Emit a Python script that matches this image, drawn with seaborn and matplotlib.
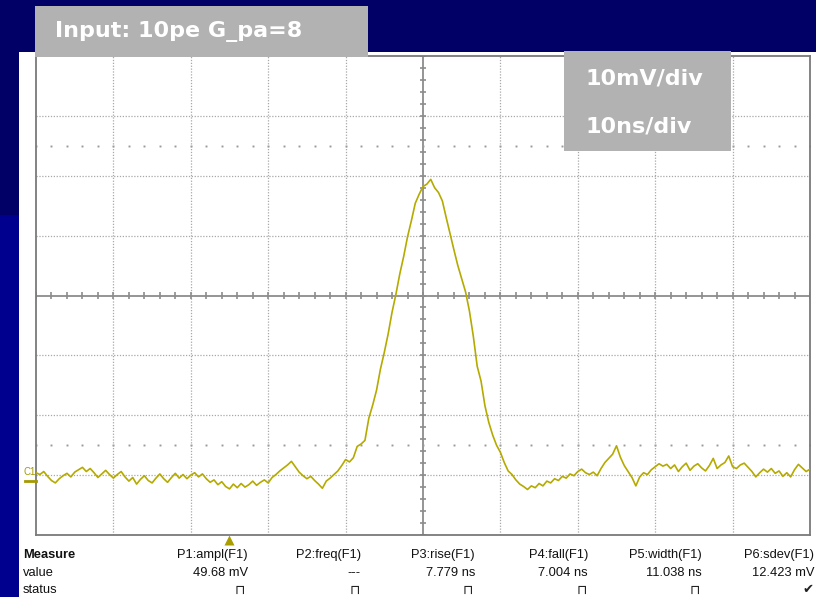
import numpy as np
import pandas as pd
import seaborn as sns
import matplotlib
matplotlib.use("Agg")
import matplotlib.pyplot as plt
from matplotlib.patches import Rectangle
from matplotlib.lines import Line2D

# ---------------- data ----------------
TIME_NS = [
    -50.0, -49.5, -49.0, -48.5, -48.0, -47.5, -47.0, -46.5, -46.0, -45.5,
    -45.0, -44.5, -44.0, -43.5, -43.0, -42.5, -42.0, -41.5, -41.0, -40.5,
    -40.0, -39.5, -39.0, -38.5, -38.0, -37.5, -37.0, -36.5, -36.0, -35.5,
    -35.0, -34.5, -34.0, -33.5, -33.0, -32.5, -32.0, -31.5, -31.0, -30.5,
    -30.0, -29.5, -29.0, -28.5, -28.0, -27.5, -27.0, -26.5, -26.0, -25.5,
    -25.0, -24.5, -24.0, -23.5, -23.0, -22.5, -22.0, -21.5, -21.0, -20.5,
    -20.0, -19.5, -19.0, -18.5, -18.0, -17.5, -17.0, -16.5, -16.0, -15.5,
    -15.0, -14.5, -14.0, -13.5, -13.0, -12.5, -12.0, -11.5, -11.0, -10.5,
    -10.0, -9.5, -9.0, -8.5, -8.0, -7.5, -7.0, -6.5, -6.0, -5.5,
    -5.0, -4.5, -4.0, -3.5, -3.0, -2.5, -2.0, -1.5, -1.0, -0.5,
    0.0, 0.5, 1.0, 1.5, 2.0, 2.5, 3.0, 3.5, 4.0, 4.5,
    5.0, 5.5, 6.0, 6.5, 7.0, 7.5, 8.0, 8.5, 9.0, 9.5,
    10.0, 10.5, 11.0, 11.5, 12.0, 12.5, 13.0, 13.5, 14.0, 14.5,
    15.0, 15.5, 16.0, 16.5, 17.0, 17.5, 18.0, 18.5, 19.0, 19.5,
    20.0, 20.5, 21.0, 21.5, 22.0, 22.5, 23.0, 23.5, 24.0, 24.5,
    25.0, 25.5, 26.0, 26.5, 27.0, 27.5, 28.0, 28.5, 29.0, 29.5,
    30.0, 30.5, 31.0, 31.5, 32.0, 32.5, 33.0, 33.5, 34.0, 34.5,
    35.0, 35.5, 36.0, 36.5, 37.0, 37.5, 38.0, 38.5, 39.0, 39.5,
    40.0, 40.5, 41.0, 41.5, 42.0, 42.5, 43.0, 43.5, 44.0, 44.5,
    45.0, 45.5, 46.0, 46.5, 47.0, 47.5, 48.0, 48.5, 49.0, 49.5,
    50.0,
]
VOLT_MV = [
    -29.6, -29.9, -29.4, -30.2, -30.9, -31.3, -30.6, -30.1, -29.7, -30.3,
    -29.5, -29.1, -28.7, -29.4, -28.9, -29.6, -30.4, -29.8, -29.2, -29.9,
    -30.5, -29.9, -29.4, -30.3, -31.0, -30.4, -31.5, -30.7, -30.1, -30.9,
    -31.3, -30.5, -29.8, -30.6, -31.2, -30.4, -29.7, -30.5, -29.9, -30.6,
    -30.0, -29.6, -30.3, -29.8, -30.6, -31.2, -30.8, -31.6, -31.1, -31.9,
    -32.3, -31.5, -32.1, -31.4, -32.0, -31.6, -31.0, -31.7, -31.2, -30.8,
    -31.3, -30.4, -29.9, -29.3, -28.8, -28.3, -27.7, -28.6, -29.5, -30.1,
    -30.6, -30.2, -30.9, -31.5, -32.2, -31.0, -30.5, -29.9, -29.3, -28.4,
    -27.4, -27.8, -27.1, -25.2, -24.8, -24.2, -20.5, -18.3, -15.8, -12.3,
    -9.5, -6.4, -2.8, 0.2, 3.6, 6.5, 9.8, 12.5, 15.4, 16.9,
    18.2, 18.6, 19.4, 18.0, 17.2, 15.8, 13.0, 10.3, 7.6, 5.0,
    2.8, 0.6, -2.6, -6.8, -11.8, -14.3, -18.4, -21.2, -23.3, -25.0,
    -26.2, -27.9, -29.3, -29.9, -30.8, -31.5, -31.9, -32.4, -31.8, -32.1,
    -31.4, -31.8, -31.0, -31.3, -30.6, -30.9, -30.2, -30.5, -29.8, -30.1,
    -29.4, -29.0, -29.6, -29.9, -29.5, -30.1, -28.9, -27.9, -27.2, -26.5,
    -25.1, -27.0, -28.4, -29.4, -30.4, -31.8, -30.3, -29.6, -29.9, -29.1,
    -28.6, -28.1, -28.5, -28.2, -28.9, -28.3, -29.4, -28.6, -28.0, -29.2,
    -28.5, -28.1, -28.8, -29.3, -28.4, -27.2, -28.9, -28.3, -27.9, -26.8,
    -28.6, -28.9, -28.3, -28.0, -28.7, -29.4, -30.3, -29.6, -29.0, -29.5,
    -28.9, -29.7, -29.3, -30.2, -29.6, -30.3, -29.1, -28.2, -28.8, -29.4,
    -29.0,
]
TRIGGER_NS = -25.0
CURSOR_MV = [25.0, -25.0]

TITLE = "Input: 10pe G_pa=8"
SCALE_LINES = ["10mV/div", "10ns/div"]
MEAS_HEADERS = ["P1:ampl(F1)", "P2:freq(F1)", "P3:rise(F1)", "P4:fall(F1)", "P5:width(F1)", "P6:sdev(F1)"]
MEAS_VALUES = ["49.68 mV", "---", "7.779 ns", "7.004 ns", "11.038 ns", "12.423 mV"]
MEAS_STATUS = ["\u2293", "\u2293", "\u2293", "\u2293", "\u2293", "\u2714"]

# ---------------- figure ----------------
W, H = 816, 597
NAVY = "#000066"
BLUE = "#00008E"
GREY_BOX = "#B2B2B2"
TRACE = "#B5AA00"

fig = plt.figure(figsize=(W / 100, H / 100), dpi=100, facecolor=NAVY)


def fx(x):
    return x / W


def fy(y):
    return 1 - y / H


def rect(x0, y0, x1, y1, color, z):
    fig.add_artist(Rectangle((fx(x0), fy(y1)), (x1 - x0) / W, (y1 - y0) / H,
                             transform=fig.transFigure, facecolor=color,
                             edgecolor="none", zorder=z))


rect(0, 215, 19, 597, BLUE, -20)
rect(19, 52, 816, 597, "white", -20)

ax = fig.add_axes([fx(36), fy(535), 774 / W, 479 / H])
ax.set_facecolor("white")
ax.set_xlim(-50, 50)
ax.set_ylim(-40, 40)
ax.set_xticks([])
ax.set_yticks([])
for s in ax.spines.values():
    s.set_color("#7A7A7A")
    s.set_linewidth(1.3)

grid_kw = dict(color="#A8A8A8", lw=0.9, ls=(0, (1, 1.3)), zorder=1)
for gx in range(-40, 41, 10):
    if gx != 0:
        ax.axvline(gx, **grid_kw)
for gy in range(-30, 31, 10):
    if gy != 0:
        ax.axhline(gy, **grid_kw)

center_col = "#8C8C8C"
ax.axhline(0, color=center_col, lw=1.3, zorder=2)
ax.axvline(0, color=center_col, lw=1.3, zorder=2)
minor_x = np.arange(-50, 50.01, 2)
minor_y = np.arange(-40, 40.01, 2)
ax.vlines(minor_x, -0.6, 0.6, color=center_col, lw=1.2, zorder=2)
ax.hlines(minor_y, -0.45, 0.45, color=center_col, lw=1.2, zorder=2)
for cm in CURSOR_MV:
    ax.plot(minor_x, np.full(minor_x.shape, cm), ls="none", marker="s", ms=1.4,
            color="#9A9A9A", mec="none", zorder=2)

df = pd.DataFrame({"time_ns": TIME_NS, "volt_mv": VOLT_MV})
sns.lineplot(data=df, x="time_ns", y="volt_mv", ax=ax, color=TRACE, lw=1.2,
             estimator=None, sort=False, zorder=5)
ax.set_xlabel("")
ax.set_ylabel("")

# trigger marker below the grid
ax.plot([TRIGGER_NS], [-40.9], marker="^", ms=7, color="#A89E00", mec="none",
        clip_on=False, zorder=6)

# channel marker
fig.text(fx(23), fy(472), "C1", fontsize=7, color="#A39900", va="center", ha="left",
         family="Liberation Sans")
fig.add_artist(Line2D([fx(25), fx(36)], [fy(481), fy(481)], transform=fig.transFigure,
                      color="#A39900", lw=2))

# label boxes
rect(35, 6, 368, 57, GREY_BOX, 5)
fig.text(fx(55), fy(32), TITLE, color="white", fontsize=16, fontweight="bold",
         ha="left", va="center", zorder=6, family="DejaVu Sans")
rect(564, 51, 731, 151, GREY_BOX, 5)
fig.text(fx(585), fy(78), SCALE_LINES[0], color="white", fontsize=16, fontweight="bold",
         ha="left", va="center", zorder=6, family="DejaVu Sans")
fig.text(fx(585), fy(126), SCALE_LINES[1], color="white", fontsize=16, fontweight="bold",
         ha="left", va="center", zorder=6, family="DejaVu Sans")

# measurement table
tf = dict(fontsize=9.3, family="Liberation Sans", color="#111111", va="center")
fig.text(fx(23), fy(555), "Measure", fontweight="bold", ha="left", **tf)
fig.text(fx(23), fy(573), "value", ha="left", **tf)
fig.text(fx(23), fy(590), "status", ha="left", **tf)
right_edges = [248, 361, 475, 588, 702, 814]
status_x = [240, 355, 468, 582, 695, 808]
for hdr, val, st, rx, sx in zip(MEAS_HEADERS, MEAS_VALUES, MEAS_STATUS, right_edges, status_x):
    fig.text(fx(rx), fy(555), hdr, ha="right", **tf)
    fig.text(fx(rx), fy(573), val, ha="right", **tf)
    fig.text(fx(sx), fy(590), st, ha="center", fontsize=9.5, family="DejaVu Sans",
             color="#222222", va="center")

fig.savefig("out.png", dpi=100, facecolor=NAVY)
